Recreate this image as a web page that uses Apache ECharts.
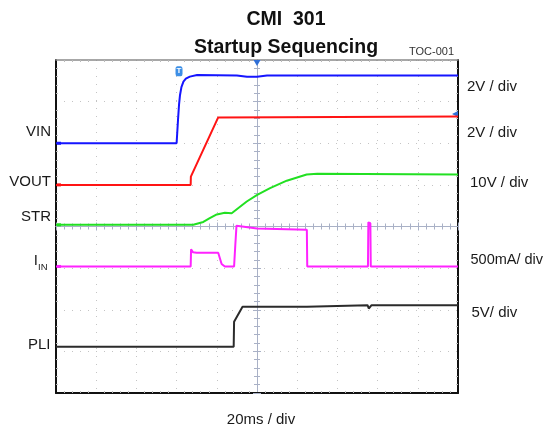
<!DOCTYPE html>
<html><head><meta charset="utf-8">
<script src="https://cdn.jsdelivr.net/npm/echarts@6/dist/echarts.min.js"></script>
<style>html,body{margin:0;padding:0;background:#fff}#c{width:547px;height:432px}</style>
</head><body><div id="c"></div>
<script>
// time in ms (20 ms / div), level in screen divisions (0..8)
const vinTime  = [0, 60.0, 60.7, 61.2, 61.7, 62.4, 63.4, 64.6, 66.6, 70.2, 90, 95, 100, 105, 150, 200];
const vinDiv   = [6.0, 6.0, 6.56, 6.92, 7.16, 7.35, 7.48, 7.55, 7.60, 7.64, 7.63, 7.60, 7.60, 7.63, 7.63, 7.63];
const voutTime = [0, 67.0, 67.1, 80.7, 200];
const voutDiv  = [5.0, 5.0, 5.20, 6.62, 6.64];
const strTime  = [0, 68.3, 73.3, 76.5, 80, 84, 87.4, 94.9, 100.1, 106.5, 114.8, 124.7, 130, 200];
const strDiv   = [4.04, 4.04, 4.11, 4.20, 4.29, 4.33, 4.32, 4.60, 4.76, 4.92, 5.10, 5.25, 5.27, 5.25];
const iinTime  = [0, 67.0, 67.2, 68.2, 70.0, 80.7, 82.4, 84.0, 88.6, 89.2, 89.8, 100, 124.8, 125.0, 155.2, 155.4, 156.4, 156.6, 200];
const iinDiv   = [3.04, 3.04, 3.45, 3.38, 3.37, 3.37, 3.10, 3.04, 3.04, 3.55, 4.02, 3.95, 3.92, 3.04, 3.04, 4.10, 4.08, 3.04, 3.04];
const pliTime  = [0, 88.4, 88.6, 92.8, 124.8, 125.6, 155.0, 155.6, 157.0, 200];
const pliDiv   = [1.11, 1.11, 1.71, 2.07, 2.07, 2.11, 2.11, 2.03, 2.11, 2.11];

const leftLabels  = ['VIN', 'VOUT', 'STR', 'PLI'];
const rightLabels = ['2V / div', '2V / div', '10V / div', '500mA/ div', '5V/ div'];
const titleText = 'CMI  301';
const subtitleText = 'Startup Sequencing';
const tocText = 'TOC-001';
const xLabelText = '20ms / div';

const zip = (t, v) => t.map((x, i) => [x, v[i]]);
const FONT = "'Liberation Sans', Arial, sans-serif";
const DOT = '#c4c4c4';
const CEN = '#a9b1c6';

function frameX(pos, color, width) {
  return { type:'value', min:0, max:200, interval:20, position:pos,
    axisLine:{show:true, onZero:false, lineStyle:{color:color, width:width}},
    axisTick:{show:false, inside:true}, axisLabel:{show:false},
    minorTick:{show:true, splitNumber:5, length:2, lineStyle:{color:'#bbb'}},
    splitLine:{show:false} };
}
function frameY(pos, color, width) {
  return { type:'value', min:0, max:8, interval:1, position:pos,
    axisLine:{show:true, onZero:false, lineStyle:{color:color, width:width}},
    axisTick:{show:false, inside:true}, axisLabel:{show:false},
    minorTick:{show:true, splitNumber:5, length:2, lineStyle:{color:'#bbb'}},
    splitLine:{show:false} };
}
function centerX(inside) {
  return { type:'value', min:0, max:200, interval:20, position:'bottom', offset:-166.5,
    axisLine:{show:true, onZero:false, lineStyle:{color:CEN, width:1}},
    axisTick:{show:true, inside:inside, length:4, lineStyle:{color:CEN}},
    minorTick:{show:true, splitNumber:5, length:3, lineStyle:{color:CEN}},
    axisLabel:{show:false}, splitLine:{show:false} };
}
function centerY(inside) {
  return { type:'value', min:0, max:8, interval:1, position:'left', offset:-201,
    axisLine:{show:true, onZero:false, lineStyle:{color:CEN, width:1}},
    axisTick:{show:true, inside:inside, length:4, lineStyle:{color:CEN}},
    minorTick:{show:true, splitNumber:5, length:3, lineStyle:{color:CEN}},
    axisLabel:{show:false}, splitLine:{show:false} };
}

const xMain = frameX('bottom', '#111', 2);
xMain.splitLine = {show:true, lineStyle:{color:DOT, type:[1,7], width:1}};
const yMain = frameY('left', '#111', 2);
yMain.splitLine = {show:true, lineStyle:{color:DOT, type:[1,7], width:1}};

function chanMark(color, base) {
  return { symbol:'rect', symbolSize:[4,3], symbolOffset:[3,0], silent:true,
    label:{show:false}, itemStyle:{color:color},
    data:[{coord:[0, base]}] };
}
function trace(name, data, color, extraMark) {
  const s = { name:name, type:'line', data:data, showSymbol:false, symbol:'none',
    xAxisIndex:0, yAxisIndex:0, z:5, lineStyle:{color:color, width:2}, animation:false };
  if (extraMark) s.markPoint = extraMark;
  return s;
}

const blueMarks = {
  silent:true, label:{show:false},
  data:[
    {coord:[0, vinDiv[0]], symbol:'rect', symbolSize:[4,3], symbolOffset:[3,0], itemStyle:{color:'#1515ff'}},
    {coord:[61.2, 7.73], symbol:'roundRect', symbolSize:[7,10], itemStyle:{color:'#3d8fe6'},
      label:{show:true, formatter:'T', color:'#fff', fontSize:8, fontWeight:'bold', position:'inside'}},
    {coord:[100, 8], symbol:'triangle', symbolRotate:180, symbolSize:[7,6], symbolOffset:[0,3], itemStyle:{color:'#2f6fd6'}},
    {coord:[200, 6.70], symbol:'triangle', symbolRotate:90, symbolSize:[6,6], symbolOffset:[-3,0], itemStyle:{color:'#2f6fd6'}}
  ]
};

const txt = (t, x, y, opts) => ({ type:'text', x:x, y:y, silent:true,
  style:Object.assign({text:t, fill:'#1a1a1a', font:'15px ' + FONT, textAlign:'left', textVerticalAlign:'middle'}, opts || {}) });

const chart = echarts.init(document.getElementById('c'), null, {renderer:'canvas'});
chart.setOption({
  animation:false,
  backgroundColor:'#fff',
  grid:{left:56, right:89, top:60, bottom:39, containLabel:false},
  xAxis:[xMain, frameX('top', '#8a8a8a', 1.5), centerX(true), centerX(false)],
  yAxis:[yMain, frameY('right', '#111', 2), centerY(true), centerY(false)],
  series:[
    trace('PLI', zip(pliTime, pliDiv), '#2b2b2b'),
    trace('IIN', zip(iinTime, iinDiv), '#ff22ff', chanMark('#ff22ff', iinDiv[0])),
    trace('STR', zip(strTime, strDiv), '#22e022', chanMark('#22e022', strDiv[0])),
    trace('VOUT', zip(voutTime, voutDiv), '#ff1414', chanMark('#ff1414', voutDiv[0])),
    trace('VIN', zip(vinTime, vinDiv), '#1515ff', blueMarks)
  ],
  graphic:[
    txt(titleText, 286, 20, {font:'bold 19.5px ' + FONT, textAlign:'center', fill:'#111'}),
    txt(subtitleText, 286, 48, {font:'bold 19.5px ' + FONT, textAlign:'center', fill:'#111'}),
    txt(tocText, 454, 52, {font:'11px ' + FONT, textAlign:'right', fill:'#333'}),
    txt(leftLabels[0], 51, 132, {textAlign:'right'}),
    txt(leftLabels[1], 51, 182, {textAlign:'right'}),
    txt(leftLabels[2], 51, 217, {textAlign:'right'}),
    txt('I', 38, 261, {textAlign:'right'}),
    txt('IN', 38, 267, {font:'9.5px ' + FONT}),
    txt(leftLabels[3], 50.5, 345, {textAlign:'right'}),
    txt(rightLabels[0], 467, 86.5),
    txt(rightLabels[1], 467, 132.5),
    txt(rightLabels[2], 470, 183),
    txt(rightLabels[3], 470.5, 260, {font:'14.5px ' + FONT}),
    txt(rightLabels[4], 471.5, 313),
    txt(xLabelText, 261, 420, {textAlign:'center'})
  ]
});
</script>
</body></html>
